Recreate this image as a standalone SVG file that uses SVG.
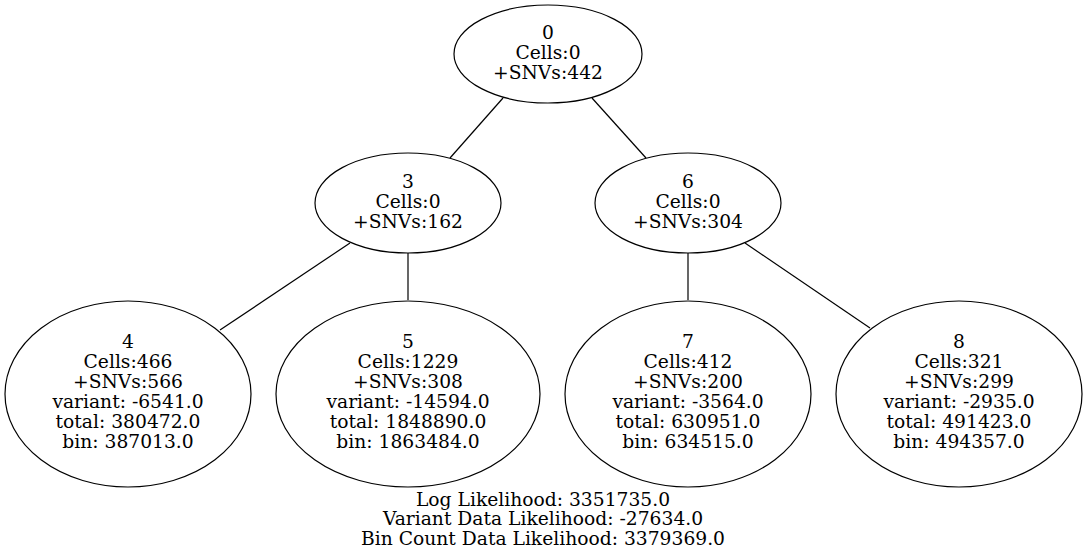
<svg xmlns="http://www.w3.org/2000/svg" width="1088" height="557" viewBox="0 0 1088 557">
<style>
  .node ellipse { fill: none; stroke: #000; stroke-width: 1.2; }
  text { font-family: "DejaVu Serif", "Liberation Serif", serif; font-size: 18.7px; text-anchor: middle; fill: #000; }
  .edges line { stroke: #000; stroke-width: 1.2; }
</style>
<rect width="1088" height="557" fill="#fff"/>
<g class="edges">
  <line x1="503" y1="98" x2="450" y2="158"/>
  <line x1="592" y1="98" x2="646" y2="158"/>
  <line x1="350" y1="243" x2="220" y2="330"/>
  <line x1="408" y1="253" x2="408" y2="300"/>
  <line x1="688" y1="253" x2="688" y2="300"/>
  <line x1="745" y1="243" x2="870" y2="328"/>
</g>
<g id="node0" class="node">
  <ellipse cx="548" cy="54" rx="94" ry="49"/>
  <text x="548" y="39">0</text>
  <text x="548" y="59">Cells:0</text>
  <text x="548" y="79">+SNVs:442</text>
</g>
<g id="node3" class="node">
  <ellipse cx="408" cy="203" rx="93" ry="50"/>
  <text x="408" y="188">3</text>
  <text x="408" y="208">Cells:0</text>
  <text x="408" y="228">+SNVs:162</text>
</g>
<g id="node6" class="node">
  <ellipse cx="688" cy="203" rx="93" ry="50"/>
  <text x="688" y="188">6</text>
  <text x="688" y="208">Cells:0</text>
  <text x="688" y="228">+SNVs:304</text>
</g>
<g id="node4" class="node">
  <ellipse cx="128" cy="394" rx="123" ry="93"/>
  <text x="128" y="348">4</text>
  <text x="128" y="368">Cells:466</text>
  <text x="128" y="388">+SNVs:566</text>
  <text x="128" y="408">variant: -6541.0</text>
  <text x="128" y="428">total: 380472.0</text>
  <text x="128" y="448">bin: 387013.0</text>
</g>
<g id="node5" class="node">
  <ellipse cx="408" cy="394" rx="132" ry="93"/>
  <text x="408" y="348">5</text>
  <text x="408" y="368">Cells:1229</text>
  <text x="408" y="388">+SNVs:308</text>
  <text x="408" y="408">variant: -14594.0</text>
  <text x="408" y="428">total: 1848890.0</text>
  <text x="408" y="448">bin: 1863484.0</text>
</g>
<g id="node7" class="node">
  <ellipse cx="688" cy="394" rx="123" ry="93"/>
  <text x="688" y="348">7</text>
  <text x="688" y="368">Cells:412</text>
  <text x="688" y="388">+SNVs:200</text>
  <text x="688" y="408">variant: -3564.0</text>
  <text x="688" y="428">total: 630951.0</text>
  <text x="688" y="448">bin: 634515.0</text>
</g>
<g id="node8" class="node">
  <ellipse cx="959" cy="394" rx="123" ry="93"/>
  <text x="959" y="348">8</text>
  <text x="959" y="368">Cells:321</text>
  <text x="959" y="388">+SNVs:299</text>
  <text x="959" y="408">variant: -2935.0</text>
  <text x="959" y="428">total: 491423.0</text>
  <text x="959" y="448">bin: 494357.0</text>
</g>
<g id="graph-label">
  <text x="543" y="506">Log Likelihood: 3351735.0</text>
  <text x="543" y="525">Variant Data Likelihood: -27634.0</text>
  <text x="543" y="545">Bin Count Data Likelihood: 3379369.0</text>
</g>
</svg>
